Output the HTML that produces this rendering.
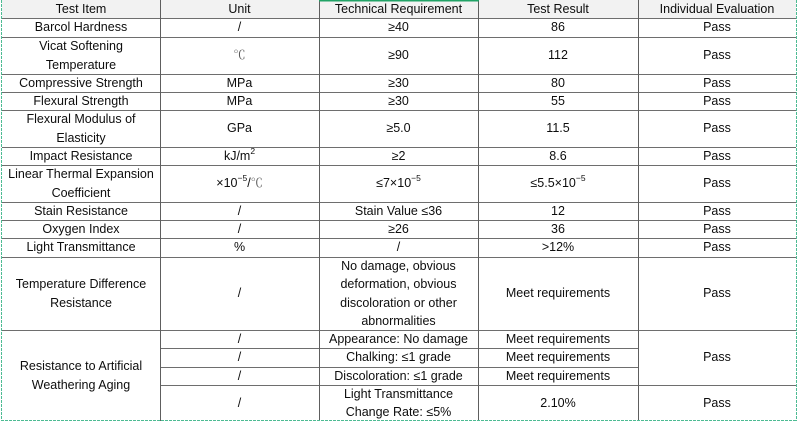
<!DOCTYPE html>
<html>
<head>
<meta charset="utf-8">
<style>
  html,body{margin:0;padding:0;background:#fff;}
  body{width:800px;height:425px;position:relative;overflow:hidden;
       font-family:"Liberation Sans","Noto Sans CJK SC",sans-serif;font-size:12.5px;color:#0d0d0d;}
  .c{position:absolute;display:flex;align-items:center;justify-content:center;text-align:center;line-height:18.3px;white-space:nowrap;}
  .hd{background:#f2f2f2;}
  sup{font-size:8.5px;line-height:0;position:relative;top:-1px;vertical-align:super;}
  .deg{font-family:"Noto Serif CJK SC","Liberation Serif",serif;color:#555;font-size:12px;}
  svg{position:absolute;left:0;top:0;}
</style>
</head>
<body>
<div class="c hd" style="left:2px;top:0;width:794px;height:18px;"></div>

<div class="c" style="left:2px;top:0;width:158px;height:18px;">Test Item</div>
<div class="c" style="left:160px;top:0;width:159px;height:18px;">Unit</div>
<div class="c" style="left:319px;top:0;width:159px;height:18px;">Technical Requirement</div>
<div class="c" style="left:478px;top:0;width:160px;height:18px;">Test Result</div>
<div class="c" style="left:638px;top:0;width:158px;height:18px;">Individual Evaluation</div>

<div class="c" style="left:2px;top:18px;width:158px;height:19px;">Barcol Hardness</div>
<div class="c" style="left:160px;top:18px;width:159px;height:19px;">/</div>
<div class="c" style="left:319px;top:18px;width:159px;height:19px;">≥40</div>
<div class="c" style="left:478px;top:18px;width:160px;height:19px;">86</div>
<div class="c" style="left:638px;top:18px;width:158px;height:19px;">Pass</div>

<div class="c" style="left:2px;top:37px;width:158px;height:37px;">Vicat Softening<br>Temperature</div>
<div class="c" style="left:160px;top:37px;width:159px;height:37px;"><span class="deg">℃</span></div>
<div class="c" style="left:319px;top:37px;width:159px;height:37px;">≥90</div>
<div class="c" style="left:478px;top:37px;width:160px;height:37px;">112</div>
<div class="c" style="left:638px;top:37px;width:158px;height:37px;">Pass</div>

<div class="c" style="left:2px;top:74px;width:158px;height:18px;">Compressive Strength</div>
<div class="c" style="left:160px;top:74px;width:159px;height:18px;">MPa</div>
<div class="c" style="left:319px;top:74px;width:159px;height:18px;">≥30</div>
<div class="c" style="left:478px;top:74px;width:160px;height:18px;">80</div>
<div class="c" style="left:638px;top:74px;width:158px;height:18px;">Pass</div>

<div class="c" style="left:2px;top:92px;width:158px;height:18px;">Flexural Strength</div>
<div class="c" style="left:160px;top:92px;width:159px;height:18px;">MPa</div>
<div class="c" style="left:319px;top:92px;width:159px;height:18px;">≥30</div>
<div class="c" style="left:478px;top:92px;width:160px;height:18px;">55</div>
<div class="c" style="left:638px;top:92px;width:158px;height:18px;">Pass</div>

<div class="c" style="left:2px;top:110px;width:158px;height:37px;">Flexural Modulus of<br>Elasticity</div>
<div class="c" style="left:160px;top:110px;width:159px;height:37px;">GPa</div>
<div class="c" style="left:319px;top:110px;width:159px;height:37px;">≥5.0</div>
<div class="c" style="left:478px;top:110px;width:160px;height:37px;">11.5</div>
<div class="c" style="left:638px;top:110px;width:158px;height:37px;">Pass</div>

<div class="c" style="left:2px;top:147px;width:158px;height:18px;">Impact Resistance</div>
<div class="c" style="left:160px;top:147px;width:159px;height:18px;"><span>kJ/m<sup>2</sup></span></div>
<div class="c" style="left:319px;top:147px;width:159px;height:18px;">≥2</div>
<div class="c" style="left:478px;top:147px;width:160px;height:18px;">8.6</div>
<div class="c" style="left:638px;top:147px;width:158px;height:18px;">Pass</div>

<div class="c" style="left:2px;top:165px;width:158px;height:37px;">Linear Thermal Expansion<br>Coefficient</div>
<div class="c" style="left:160px;top:165px;width:159px;height:37px;"><span>×10<sup>−5</sup>/<span class="deg">℃</span></span></div>
<div class="c" style="left:319px;top:165px;width:159px;height:37px;"><span>≤7×10<sup>−5</sup></span></div>
<div class="c" style="left:478px;top:165px;width:160px;height:37px;"><span>≤5.5×10<sup>−5</sup></span></div>
<div class="c" style="left:638px;top:165px;width:158px;height:37px;">Pass</div>

<div class="c" style="left:2px;top:202px;width:158px;height:18px;">Stain Resistance</div>
<div class="c" style="left:160px;top:202px;width:159px;height:18px;">/</div>
<div class="c" style="left:319px;top:202px;width:159px;height:18px;">Stain Value ≤36</div>
<div class="c" style="left:478px;top:202px;width:160px;height:18px;">12</div>
<div class="c" style="left:638px;top:202px;width:158px;height:18px;">Pass</div>

<div class="c" style="left:2px;top:220px;width:158px;height:18px;">Oxygen Index</div>
<div class="c" style="left:160px;top:220px;width:159px;height:18px;">/</div>
<div class="c" style="left:319px;top:220px;width:159px;height:18px;">≥26</div>
<div class="c" style="left:478px;top:220px;width:160px;height:18px;">36</div>
<div class="c" style="left:638px;top:220px;width:158px;height:18px;">Pass</div>

<div class="c" style="left:2px;top:238px;width:158px;height:19px;">Light Transmittance</div>
<div class="c" style="left:160px;top:238px;width:159px;height:19px;">%</div>
<div class="c" style="left:319px;top:238px;width:159px;height:19px;">/</div>
<div class="c" style="left:478px;top:238px;width:160px;height:19px;">&gt;12%</div>
<div class="c" style="left:638px;top:238px;width:158px;height:19px;">Pass</div>

<div class="c" style="left:2px;top:257px;width:158px;height:73px;">Temperature Difference<br>Resistance</div>
<div class="c" style="left:160px;top:257px;width:159px;height:73px;">/</div>
<div class="c" style="left:319px;top:257px;width:159px;height:73px;">No damage, obvious<br>deformation, obvious<br>discoloration or other<br>abnormalities</div>
<div class="c" style="left:478px;top:257px;width:160px;height:73px;">Meet requirements</div>
<div class="c" style="left:638px;top:257px;width:158px;height:73px;">Pass</div>

<div class="c" style="left:2px;top:330px;width:158px;height:91px;">Resistance to Artificial<br>Weathering Aging</div>

<div class="c" style="left:160px;top:330px;width:159px;height:18px;">/</div>
<div class="c" style="left:319px;top:330px;width:159px;height:18px;">Appearance: No damage</div>
<div class="c" style="left:478px;top:330px;width:160px;height:18px;">Meet requirements</div>

<div class="c" style="left:160px;top:348px;width:159px;height:19px;">/</div>
<div class="c" style="left:319px;top:348px;width:159px;height:19px;">Chalking: ≤1 grade</div>
<div class="c" style="left:478px;top:348px;width:160px;height:19px;">Meet requirements</div>

<div class="c" style="left:160px;top:367px;width:159px;height:18px;">/</div>
<div class="c" style="left:319px;top:367px;width:159px;height:18px;">Discoloration: ≤1 grade</div>
<div class="c" style="left:478px;top:367px;width:160px;height:18px;">Meet requirements</div>

<div class="c" style="left:638px;top:330px;width:158px;height:55px;">Pass</div>

<div class="c" style="left:160px;top:385px;width:159px;height:36px;">/</div>
<div class="c" style="left:319px;top:385px;width:159px;height:36px;">Light Transmittance<br>Change Rate: ≤5%</div>
<div class="c" style="left:478px;top:385px;width:160px;height:36px;">2.10%</div>
<div class="c" style="left:638px;top:385px;width:158px;height:36px;">Pass</div>

<svg width="800" height="425" viewBox="0 0 800 425">
  <g stroke="#6e6e6e" stroke-width="1" fill="none" shape-rendering="crispEdges">
    <line x1="2" y1="18.5" x2="796" y2="18.5"/>
    <line x1="2" y1="37.5" x2="796" y2="37.5"/>
    <line x1="2" y1="74.5" x2="796" y2="74.5"/>
    <line x1="2" y1="92.5" x2="796" y2="92.5"/>
    <line x1="2" y1="110.5" x2="796" y2="110.5"/>
    <line x1="2" y1="147.5" x2="796" y2="147.5"/>
    <line x1="2" y1="165.5" x2="796" y2="165.5"/>
    <line x1="2" y1="202.5" x2="796" y2="202.5"/>
    <line x1="2" y1="220.5" x2="796" y2="220.5"/>
    <line x1="2" y1="238.5" x2="796" y2="238.5"/>
    <line x1="2" y1="257.5" x2="796" y2="257.5"/>
    <line x1="2" y1="330.5" x2="796" y2="330.5"/>
    <line x1="160" y1="348.5" x2="638" y2="348.5"/>
    <line x1="160" y1="367.5" x2="638" y2="367.5"/>
    <line x1="160" y1="385.5" x2="796" y2="385.5"/>
  </g>
  <g stroke="#5e5e5e" stroke-width="1" fill="none" shape-rendering="crispEdges">
    <line x1="160.5" y1="0" x2="160.5" y2="421"/>
    <line x1="319.5" y1="0" x2="319.5" y2="421"/>
    <line x1="478.5" y1="0" x2="478.5" y2="421"/>
    <line x1="638.5" y1="0" x2="638.5" y2="421"/>
  </g>
  <g stroke="#4dbb93" stroke-width="1" fill="none" stroke-dasharray="3,1" shape-rendering="crispEdges">
    <line x1="1.5" y1="0" x2="1.5" y2="421"/>
    <line x1="796.5" y1="0" x2="796.5" y2="421"/>
    <line x1="1" y1="420.5" x2="797" y2="420.5"/>
  </g>
  <line x1="319" y1="0.5" x2="479" y2="0.5" stroke="#21a366" stroke-width="2"/>
</svg>
</body>
</html>
